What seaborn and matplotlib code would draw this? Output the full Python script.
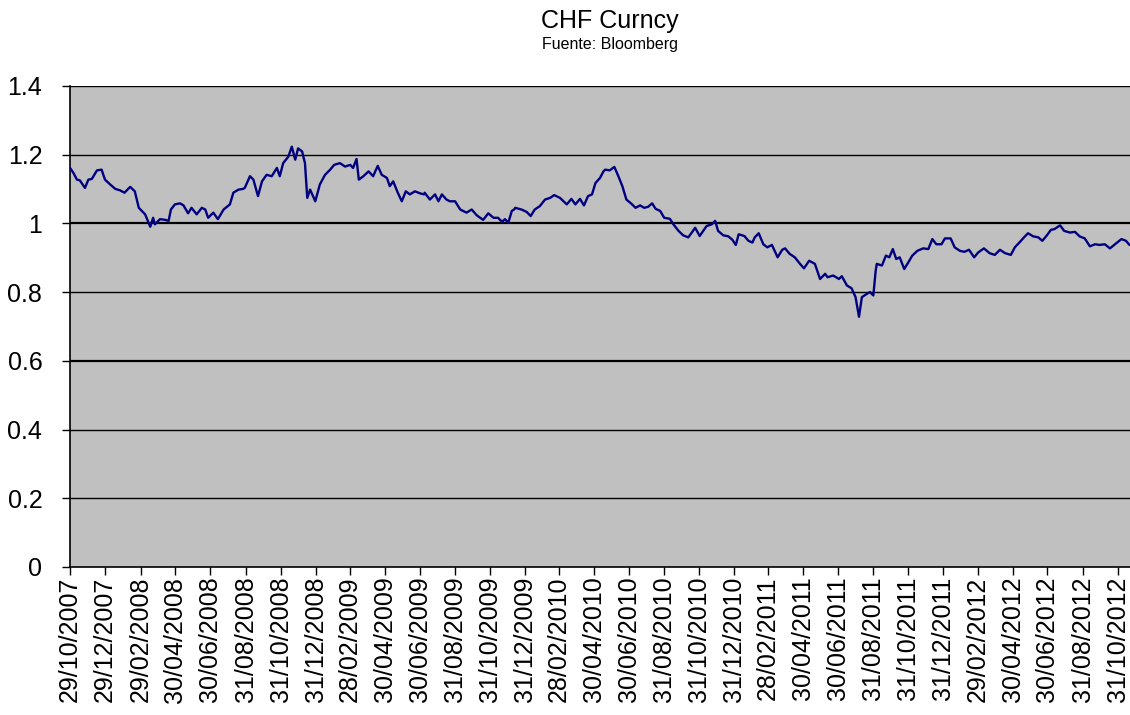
import numpy as np
import pandas as pd
import matplotlib
matplotlib.use("Agg")
import matplotlib.pyplot as plt
import matplotlib.dates as mdates
import seaborn as sns

# ---- data -------------------------------------------------------------
start_date = "2007-10-29"
# days since 29/10/2007
day_offsets = [
    0, 6, 12, 17, 26, 32, 38, 47, 55, 61, 70, 79, 87, 95, 105, 113, 120, 131, 140, 145,
    148, 157, 166, 172, 176, 183, 192, 198, 206, 212, 221, 230, 236, 241, 250, 258, 268, 279, 285, 294, 302,
    305, 314, 320, 328, 335, 343, 352, 361, 366, 372, 381, 387, 393, 398, 405, 410, 414, 419, 428, 436, 445, 454, 461,
    471, 480, 489, 494, 500, 504, 512, 521, 529, 537, 544, 553, 558, 564, 572, 579, 586, 593, 602, 611, 618,
    619, 628, 637, 643, 649, 657, 663, 672, 681, 692, 701, 710, 721, 730, 739, 747, 754, 759, 765, 771, 775,
    777, 788, 797, 804, 811, 820, 829, 838, 845, 855, 867, 875, 882, 890, 897, 904, 911, 917, 925, 931,
    934, 942, 950, 957, 964, 971, 979, 987, 995, 1002, 1009, 1016, 1022, 1030, 1037, 1047, 1053, 1062, 1070, 1079, 1086,
    1091, 1099, 1111, 1120, 1126, 1131, 1140, 1149, 1156, 1162, 1167, 1177, 1184, 1191, 1195, 1202, 1210, 1217, 1225, 1235, 1243,
    1248, 1256, 1265, 1274, 1281, 1290, 1300, 1309, 1318, 1322, 1332, 1342, 1347, 1356, 1364, 1371, 1377, 1382, 1391, 1396, 1402, 1406,
    1408, 1417, 1424, 1430, 1436, 1442, 1448, 1456, 1463, 1470, 1479, 1489, 1498, 1505, 1512, 1521, 1527, 1537, 1544, 1553, 1561,
    1569, 1578, 1585, 1595, 1605, 1614, 1623, 1632, 1642, 1649, 1658, 1665, 1672, 1681, 1690, 1697, 1705, 1712, 1718,
    1728, 1735, 1745, 1754, 1762, 1771, 1780, 1789, 1797, 1806, 1815, 1824, 1835, 1843, 1849,
]
chf_values = [
    1.161, 1.146, 1.127, 1.125, 1.103, 1.127, 1.129, 1.154, 1.156, 1.127, 1.113, 1.100, 1.096, 1.089, 1.106, 1.093, 1.045, 1.026, 0.990, 1.016,
    0.997, 1.012, 1.010, 1.007, 1.040, 1.055, 1.058, 1.052, 1.029, 1.045, 1.026, 1.045, 1.040, 1.016, 1.031, 1.012, 1.040, 1.055, 1.089, 1.098, 1.100,
    1.103, 1.137, 1.127, 1.079, 1.122, 1.141, 1.137, 1.161, 1.137, 1.175, 1.194, 1.223, 1.185, 1.218, 1.209, 1.175, 1.074, 1.098, 1.064, 1.113, 1.141, 1.156, 1.170,
    1.175, 1.165, 1.170, 1.161, 1.187, 1.127, 1.137, 1.151, 1.137, 1.167, 1.141, 1.132, 1.108, 1.122, 1.089, 1.064, 1.093, 1.084, 1.093, 1.087, 1.084,
    1.089, 1.069, 1.084, 1.064, 1.084, 1.069, 1.064, 1.064, 1.040, 1.031, 1.040, 1.023, 1.010, 1.029, 1.016, 1.016, 1.004, 1.012, 1.002, 1.036, 1.040,
    1.045, 1.040, 1.033, 1.021, 1.040, 1.050, 1.069, 1.074, 1.082, 1.074, 1.055, 1.071, 1.055, 1.071, 1.052, 1.079, 1.084, 1.117, 1.132, 1.151,
    1.156, 1.154, 1.164, 1.137, 1.108, 1.069, 1.058, 1.045, 1.052, 1.045, 1.048, 1.058, 1.042, 1.036, 1.016, 1.013, 0.997, 0.978, 0.965, 0.959, 0.975,
    0.987, 0.963, 0.992, 0.997, 1.007, 0.978, 0.965, 0.962, 0.952, 0.937, 0.968, 0.963, 0.949, 0.944, 0.959, 0.971, 0.939, 0.930, 0.937, 0.901, 0.923,
    0.927, 0.911, 0.901, 0.882, 0.869, 0.891, 0.882, 0.838, 0.853, 0.843, 0.848, 0.838, 0.846, 0.819, 0.811, 0.785, 0.728, 0.785, 0.795, 0.800, 0.790, 0.860,
    0.882, 0.877, 0.906, 0.901, 0.925, 0.896, 0.901, 0.867, 0.886, 0.906, 0.920, 0.927, 0.925, 0.954, 0.939, 0.939, 0.956, 0.956, 0.930, 0.920, 0.917,
    0.923, 0.901, 0.915, 0.927, 0.913, 0.908, 0.923, 0.913, 0.908, 0.930, 0.946, 0.959, 0.971, 0.962, 0.959, 0.949, 0.965, 0.981, 0.983,
    0.994, 0.978, 0.973, 0.975, 0.962, 0.956, 0.933, 0.939, 0.937, 0.939, 0.927, 0.939, 0.954, 0.949, 0.937,
]
tick_labels = [
    "29/10/2007", "29/12/2007", "29/02/2008", "30/04/2008", "30/06/2008", "31/08/2008",
    "31/10/2008", "31/12/2008", "28/02/2009", "30/04/2009", "30/06/2009", "31/08/2009",
    "31/10/2009", "31/12/2009", "28/02/2010", "30/04/2010", "30/06/2010", "31/08/2010",
    "31/10/2010", "31/12/2010", "28/02/2011", "30/04/2011", "30/06/2011", "31/08/2011",
    "31/10/2011", "31/12/2011", "29/02/2012", "30/04/2012", "30/06/2012", "31/08/2012",
    "31/10/2012",
]
y_ticks = [0, 0.2, 0.4, 0.6, 0.8, 1.0, 1.2, 1.4]
title = "CHF Curncy"
subtitle = "Fuente: Bloomberg"
x_end = "2012-11-21"

# ---- build ------------------------------------------------------------
dates = pd.Timestamp(start_date) + pd.to_timedelta(day_offsets, unit="D")
df = pd.DataFrame({"date": dates, "value": chf_values})
tick_dates = pd.to_datetime(tick_labels, format="%d/%m/%Y")

sns.set_style("ticks")
plt.rcParams["font.family"] = ["Liberation Sans", "DejaVu Sans"]
plt.rcParams["text.color"] = "black"
plt.rcParams["xtick.color"] = "black"
plt.rcParams["ytick.color"] = "black"

fig = plt.figure(figsize=(11.3, 7.15), dpi=100)
ax = fig.add_axes([0.062, 0.207, 0.938, 0.673])
ax.set_facecolor("#C0C0C0")

for yv in y_ticks[1:]:
    ax.axhline(yv, color="black", lw=1.0 if yv not in (0.6, 1.0) else 1.6, zorder=1)

sns.lineplot(data=df, x="date", y="value", ax=ax, color="#000080", lw=1.7, zorder=3)

ax.set_xlim(pd.Timestamp(start_date), pd.Timestamp(x_end))
ax.set_ylim(0, 1.4)
ax.set_yticks(y_ticks)
ax.set_yticklabels([f"{v:g}" for v in y_ticks], fontsize=18, color="black")
ax.set_xticks(tick_dates)
ax.set_xticklabels(tick_labels, rotation=90, fontsize=18, color="black")
ax.tick_params(axis="both", direction="out", length=6, width=1, color="black")
ax.tick_params(axis="y", pad=14)
ax.tick_params(axis="x", pad=1)
ax.set_xlabel("")
ax.set_ylabel("")

for side in ("top", "right"):
    ax.spines[side].set_visible(False)
for side in ("left", "bottom"):
    ax.spines[side].set_color("black")
    ax.spines[side].set_linewidth(1.2)

fig.text(0.54, 0.970, title, ha="center", va="center", fontsize=18)
fig.text(0.54, 0.938, subtitle, ha="center", va="center", fontsize=11.5)

fig.savefig("out.png", dpi=100, facecolor="white")
